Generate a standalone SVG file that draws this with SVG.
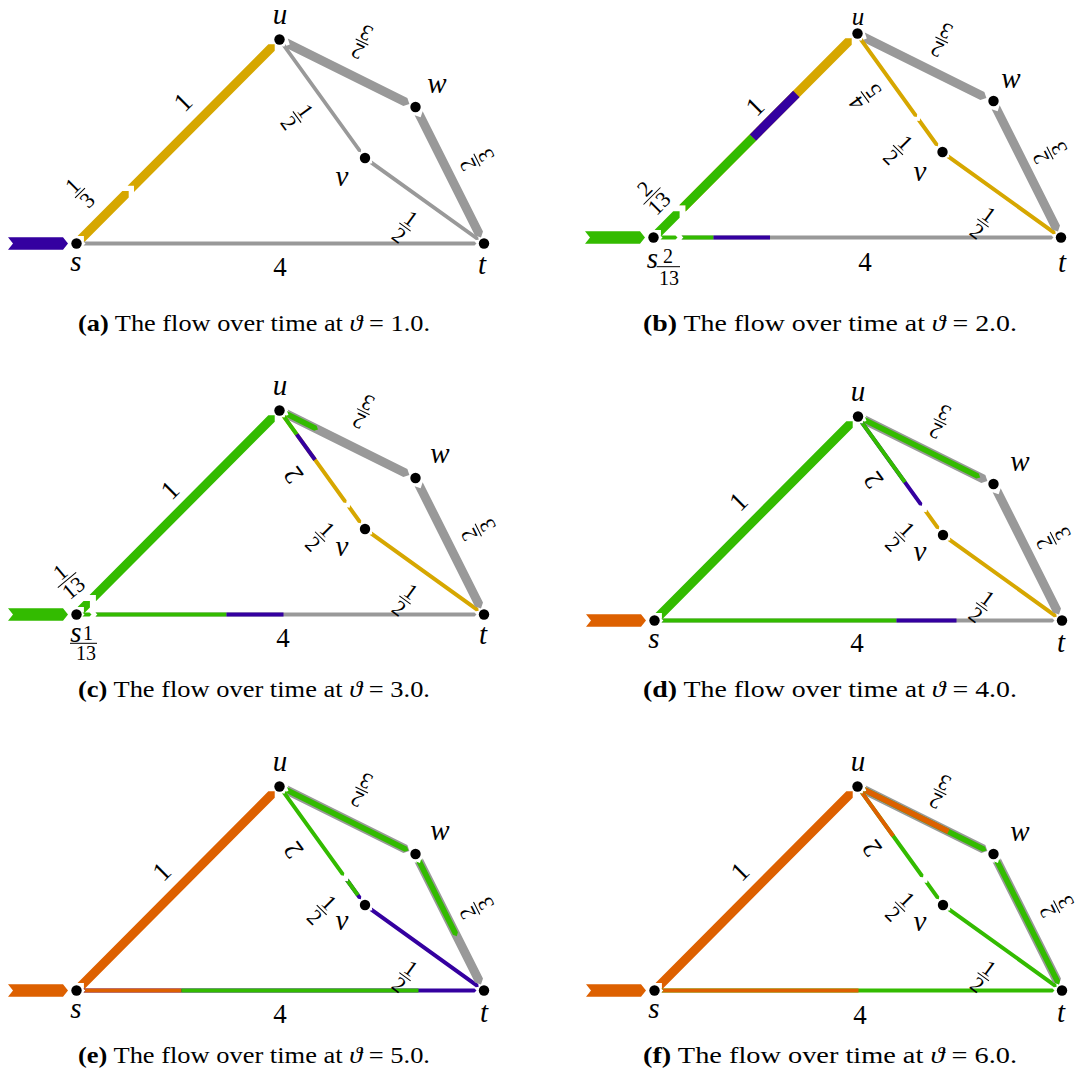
<svg xmlns="http://www.w3.org/2000/svg" width="1079" height="1082" viewBox="0 0 1079 1082" font-family="'Liberation Serif', 'Times New Roman', serif">
<style>
.g{fill:#999999}.y{fill:#d6a700}.p{fill:#3400a0}.gr{fill:#33bb00}.o{fill:#dd6000}
.n{fill:#000}
text{font-family:"Liberation Serif","Times New Roman",serif;fill:#000}
.nl{font-size:29px;font-style:italic;text-anchor:middle}
.el{font-size:27px;text-anchor:middle}
.fr{font-size:22px;text-anchor:middle}
.sf{font-size:20px;text-anchor:middle}
.bar{stroke:#000;stroke-width:1}
.cap{font-size:23px}
</style>
<rect width="1079" height="1082" fill="#fff"/>

<!-- Panel a -->
<g id="panel-a">
<g id="a-connectors">
<polygon class="p" points="8,237.2 13,243.5 8,249.8 63,249.8 68,243.5 63,237.2"/>
<g transform="translate(76.5,243.5) rotate(-45.14)">
<polygon class="y" points="6,-4.5 10.5,0 6,4.5 69.5,4.5 74,0 69.5,-4.5"/>
<polygon class="y" points="77,-4.5 81.5,0 77,4.5 276.5,4.5 281,0 276.5,-4.5"/>
</g>
<g transform="translate(76.5,243.5)"><polygon class="g" points="7,-2 9,0 7,2 398,2 400,0 398,-2"/></g>
<g transform="translate(279.5,39.5) rotate(26.39)"><polygon class="g" points="7,-4.5 11.5,0 7,4.5 140.5,4.5 145,0 140.5,-4.5"/></g>
<g transform="translate(279.5,39.5) rotate(54.19)"><polygon class="g" points="7,-1.8 9,0 7,1.8 137,1.8 139,0 137,-1.8"/></g>
<g transform="translate(365,158) rotate(35.7)"><polygon class="g" points="7,-1.9 9,0 7,1.9 138,1.9 140,0 138,-1.9"/></g>
<g transform="translate(415.5,107) rotate(63.35)"><polygon class="g" points="7,-4.5 11.5,0 7,4.5 141.5,4.5 146,0 141.5,-4.5"/></g>
<g transform="translate(183,102) rotate(-45)"><text class="el" y="9">1</text></g>
<text class="el" x="280" y="275.5">4</text>
<g transform="translate(80,193) rotate(-45)"><text class="fr" y="-3">1</text><line class="bar" x1="-7" x2="7"/><text class="fr" y="17.5">3</text></g>
<g transform="translate(362,42) rotate(206)"><text class="fr" y="-3">2</text><line class="bar" x1="-7" x2="7"/><text class="fr" y="17.5">3</text></g>
<g transform="translate(297,117) rotate(54)"><text class="fr" y="-3">1</text><line class="bar" x1="-7" x2="7"/><text class="fr" y="17.5">2</text></g>
<g transform="translate(477,160) rotate(243)"><text class="fr" y="-3">2</text><line class="bar" x1="-7" x2="7"/><text class="fr" y="17.5">3</text></g>
<g transform="translate(405,227) rotate(36)"><text class="fr" y="-3">1</text><line class="bar" x1="-7" x2="7"/><text class="fr" y="17.5">2</text></g>
</g>
<g id="a-s"><circle class="n" cx="76.5" cy="243.5" r="5.2"/><text class="nl" x="76" y="271">s</text></g>
<g id="a-u"><circle class="n" cx="279.5" cy="39.5" r="5.2"/><text class="nl" x="280" y="24">u</text></g>
<g id="a-w"><circle class="n" cx="415.5" cy="107" r="5.2"/><text class="nl" x="437" y="93">w</text></g>
<g id="a-v"><circle class="n" cx="365" cy="158" r="5.2"/><text class="nl" x="342" y="186">v</text></g>
<g id="a-t"><circle class="n" cx="484" cy="243.5" r="5.2"/><text class="nl" x="482" y="274">t</text></g>
</g>
<text class="cap" x="78" y="331" textLength="352" lengthAdjust="spacingAndGlyphs"><tspan font-weight="bold">(a)</tspan> The flow over time at <tspan font-style="italic">ϑ</tspan> = 1.0.</text>

<!-- Panel b -->
<g id="panel-b" transform="translate(577,-6)">
<g id="b-connectors">
<polygon class="gr" points="8,237.2 13,243.5 8,249.8 63,249.8 68,243.5 63,237.2"/>
<g transform="translate(76.5,243.5) rotate(-45.14)">
<polygon class="gr" points="6,-4.5 10.5,0 6,4.5 32.5,4.5 37,0 32.5,-4.5"/>
<polygon class="y" points="41,-4.5 45.5,0 41,4.5 276.5,4.5 281,0 276.5,-4.5"/>
<polygon class="gr" points="41,-4.5 45.5,0 41,4.5 141,4.5 141,-4.5"/>
<rect class="p" x="141" y="-4.5" width="61.5" height="9"/>
</g>
<g transform="translate(76.5,243.5)">
<polygon class="gr" points="7,-2 9,0 7,2 22,2 24,0 22,-2"/>
<polygon class="g" points="28,-2 30,0 28,2 398,2 400,0 398,-2"/>
<polygon class="gr" points="28,-2 30,0 28,2 60,2 60,-2"/>
<rect class="p" x="60" y="-2" width="56.5" height="4"/>
</g>
<g transform="translate(279.5,39.5) rotate(26.39)"><polygon class="g" points="7,-4.5 11.5,0 7,4.5 140.5,4.5 145,0 140.5,-4.5"/></g>
<g transform="translate(279.5,39.5) rotate(54.19)">
<polygon class="y" points="7,-2 9,0 7,2 101,2 103,0 101,-2"/>
<polygon class="y" points="106,-2 108,0 106,2 137,2 139,0 137,-2"/>
</g>
<g transform="translate(365,158) rotate(35.7)"><polygon class="y" points="7,-2 9,0 7,2 138,2 140,0 138,-2"/></g>
<g transform="translate(415.5,107) rotate(63.35)"><polygon class="g" points="7,-4.5 11.5,0 7,4.5 141.5,4.5 146,0 141.5,-4.5"/></g>
<g transform="translate(178,112.7) rotate(-45)"><text class="el" y="9">1</text></g>
<text class="el" x="288" y="277">4</text>
<g transform="translate(75,202) rotate(-45)"><text class="fr" y="-3">2</text><line class="bar" x1="-12" x2="12"/><text class="fr" y="17.5">13</text></g>
<g transform="translate(288,103) rotate(234)"><text class="fr" y="-3">4</text><line class="bar" x1="-7" x2="7"/><text class="fr" y="17.5">5</text></g>
<g transform="translate(321,156) rotate(45)"><text class="fr" y="-3">1</text><line class="bar" x1="-7" x2="7"/><text class="fr" y="17.5">2</text></g>
<g transform="translate(364.7,46) rotate(206)"><text class="fr" y="-3">2</text><line class="bar" x1="-7" x2="7"/><text class="fr" y="17.5">3</text></g>
<g transform="translate(473,159) rotate(243)"><text class="fr" y="-3">2</text><line class="bar" x1="-7" x2="7"/><text class="fr" y="17.5">3</text></g>
<g transform="translate(406,229) rotate(36)"><text class="fr" y="-3">1</text><line class="bar" x1="-7" x2="7"/><text class="fr" y="17.5">2</text></g>
</g>
<g id="b-s"><circle class="n" cx="76.5" cy="243.5" r="5.2"/><text class="nl" x="75.5" y="274.3">s</text><text class="sf" x="91" y="269">2</text><line class="bar" x1="79.7" y1="272.7" x2="103" y2="272.7"/><text class="sf" x="92" y="291">13</text></g>
<g id="b-u"><circle class="n" cx="280.5" cy="39.5" r="5.2"/><text class="nl" x="281" y="31" style="font-size:25px">u</text></g>
<g id="b-w"><circle class="n" cx="416.5" cy="107" r="5.2"/><text class="nl" x="434" y="94">w</text></g>
<g id="b-v"><circle class="n" cx="365.5" cy="158" r="5.2"/><text class="nl" x="343" y="187">v</text></g>
<g id="b-t"><circle class="n" cx="484" cy="243.5" r="5.2"/><text class="nl" x="485" y="278">t</text></g>
</g>
<text class="cap" x="643" y="331" textLength="374" lengthAdjust="spacingAndGlyphs"><tspan font-weight="bold">(b)</tspan> The flow over time at <tspan font-style="italic">ϑ</tspan> = 2.0.</text>

<!-- Panel c -->
<g id="panel-c" transform="translate(0,371)">
<g id="c-connectors">
<polygon class="gr" points="8,237.2 13,243.5 8,249.8 63,249.8 68,243.5 63,237.2"/>
<g transform="translate(76.5,243.5) rotate(-45.14)">
<polygon class="gr" points="6,-4.5 10.5,0 6,4.5 14.5,4.5 19,0 14.5,-4.5"/>
<polygon class="gr" points="23,-4.5 27.5,0 23,4.5 276.5,4.5 281,0 276.5,-4.5"/>
</g>
<g transform="translate(76.5,243.5)">
<polygon class="gr" points="6,-2 8,0 6,2 13,2 15,0 13,-2"/>
<polygon class="g" points="19,-2 21,0 19,2 398,2 400,0 398,-2"/>
<polygon class="gr" points="19,-2 21,0 19,2 150,2 150,-2"/>
<rect class="p" x="150" y="-2" width="57" height="4"/>
</g>
<g transform="translate(279.5,39.5) rotate(26.39)">
<polygon class="g" points="7,-4.5 11.5,0 7,4.5 140.5,4.5 145,0 140.5,-4.5"/>
<polygon class="gr" points="7,-2.8 10,0 7,2.8 40,2.8 43,0 40,-2.8"/>
</g>
<g transform="translate(279.5,39.5) rotate(54.19)">
<polygon class="y" points="7,-2 9,0 7,2 112,2 114,0 112,-2"/>
<polygon class="gr" points="7,-2 9,0 7,2 29.4,2 29.4,-2"/>
<rect class="p" x="29.4" y="-2" width="31.3" height="4"/>
<polygon class="y" points="118,-2 120,0 118,2 137,2 139,0 137,-2"/>
</g>
<g transform="translate(365,158) rotate(35.7)"><polygon class="y" points="7,-2 9,0 7,2 138,2 140,0 138,-2"/></g>
<g transform="translate(415.5,107) rotate(63.35)"><polygon class="g" points="7,-4.5 11.5,0 7,4.5 141.5,4.5 146,0 141.5,-4.5"/></g>
<g transform="translate(170,119) rotate(-45)"><text class="el" y="9">1</text></g>
<g transform="translate(293.3,104) rotate(234)"><text class="el" y="9">2</text></g>
<text class="el" x="283" y="276">4</text>
<g transform="translate(67,209) rotate(-40)"><text class="fr" y="-3">1</text><line class="bar" x1="-12" x2="12"/><text class="fr" y="17.5">13</text></g>
<g transform="translate(320,165.7) rotate(45)"><text class="fr" y="-3">1</text><line class="bar" x1="-7" x2="7"/><text class="fr" y="17.5">2</text></g>
<g transform="translate(363.3,40.7) rotate(206)"><text class="fr" y="-3">2</text><line class="bar" x1="-7" x2="7"/><text class="fr" y="17.5">3</text></g>
<g transform="translate(478.3,159) rotate(243)"><text class="fr" y="-3">2</text><line class="bar" x1="-7" x2="7"/><text class="fr" y="17.5">3</text></g>
<g transform="translate(405,229) rotate(36)"><text class="fr" y="-3">1</text><line class="bar" x1="-7" x2="7"/><text class="fr" y="17.5">2</text></g>
</g>
<g id="c-s"><circle class="n" cx="76.5" cy="243.5" r="5.2"/><text class="nl" x="76" y="270.5">s</text><text class="sf" x="88" y="269">1</text><line class="bar" x1="70" y1="272.3" x2="97" y2="272.3"/><text class="sf" x="86" y="289">13</text></g>
<g id="c-u"><circle class="n" cx="279.5" cy="39.5" r="5.2"/><text class="nl" x="280" y="24">u</text></g>
<g id="c-w"><circle class="n" cx="415.5" cy="107" r="5.2"/><text class="nl" x="440" y="92">w</text></g>
<g id="c-v"><circle class="n" cx="365" cy="158" r="5.2"/><text class="nl" x="342" y="185">v</text></g>
<g id="c-t"><circle class="n" cx="484" cy="243.5" r="5.2"/><text class="nl" x="483" y="273">t</text></g>
</g>
<text class="cap" x="78" y="697" textLength="352" lengthAdjust="spacingAndGlyphs"><tspan font-weight="bold">(c)</tspan> The flow over time at <tspan font-style="italic">ϑ</tspan> = 3.0.</text>

<!-- Panel d -->
<g id="panel-d" transform="translate(578,377)">
<g id="d-connectors">
<polygon class="o" points="8,237.2 13,243.5 8,249.8 63,249.8 68,243.5 63,237.2"/>
<g transform="translate(76.5,243.5) rotate(-45.14)"><polygon class="gr" points="6,-4.5 10.5,0 6,4.5 276.5,4.5 281,0 276.5,-4.5"/></g>
<g transform="translate(76.5,243.5)">
<polygon class="g" points="7,-2 9,0 7,2 398,2 400,0 398,-2"/>
<polygon class="gr" points="7,-2 9,0 7,2 242,2 242,-2"/>
<rect class="p" x="242" y="-2" width="60" height="4"/>
</g>
<g transform="translate(279.5,39.5) rotate(26.39)">
<polygon class="g" points="7,-4.5 11.5,0 7,4.5 140.5,4.5 145,0 140.5,-4.5"/>
<polygon class="gr" points="7,-2.8 10,0 7,2.8 134,2.8 137,0 134,-2.8"/>
</g>
<g transform="translate(279.5,39.5) rotate(54.19)">
<polygon class="p" points="7,-2 9,0 7,2 108,2 110,0 108,-2"/>
<polygon class="gr" points="7,-2 9,0 7,2 81,2 81,-2"/>
<polygon class="y" points="116,-2 118,0 116,2 137,2 139,0 137,-2"/>
</g>
<g transform="translate(365,158) rotate(35.7)"><polygon class="y" points="7,-2 9,0 7,2 138,2 140,0 138,-2"/></g>
<g transform="translate(415.5,107) rotate(63.35)"><polygon class="g" points="7,-4.5 11.5,0 7,4.5 141.5,4.5 146,0 141.5,-4.5"/></g>
<g transform="translate(160.3,124.7) rotate(-45)"><text class="el" y="9">1</text></g>
<g transform="translate(295.3,103) rotate(234)"><text class="el" y="9">2</text></g>
<text class="el" x="279" y="275">4</text>
<g transform="translate(322,159.7) rotate(45)"><text class="fr" y="-3">1</text><line class="bar" x1="-7" x2="7"/><text class="fr" y="17.5">2</text></g>
<g transform="translate(362,44.7) rotate(206)"><text class="fr" y="-3">2</text><line class="bar" x1="-7" x2="7"/><text class="fr" y="17.5">3</text></g>
<g transform="translate(475.3,161.3) rotate(243)"><text class="fr" y="-3">2</text><line class="bar" x1="-7" x2="7"/><text class="fr" y="17.5">3</text></g>
<g transform="translate(403.7,229.7) rotate(36)"><text class="fr" y="-3">1</text><line class="bar" x1="-7" x2="7"/><text class="fr" y="17.5">2</text></g>
</g>
<g id="d-s"><circle class="n" cx="76.5" cy="243.5" r="5.2"/><text class="nl" x="76" y="271">s</text></g>
<g id="d-u"><circle class="n" cx="280" cy="39.5" r="5.2"/><text class="nl" x="280" y="24">u</text></g>
<g id="d-w"><circle class="n" cx="415.5" cy="107" r="5.2"/><text class="nl" x="442" y="94">w</text></g>
<g id="d-v"><circle class="n" cx="365" cy="158" r="5.2"/><text class="nl" x="342" y="184">v</text></g>
<g id="d-t"><circle class="n" cx="484" cy="243.5" r="5.2"/><text class="nl" x="483" y="275">t</text></g>
</g>
<text class="cap" x="643" y="697" textLength="374" lengthAdjust="spacingAndGlyphs"><tspan font-weight="bold">(d)</tspan> The flow over time at <tspan font-style="italic">ϑ</tspan> = 4.0.</text>

<!-- Panel e -->
<g id="panel-e" transform="translate(0,747)">
<g id="e-connectors">
<polygon class="o" points="8,237.2 13,243.5 8,249.8 63,249.8 68,243.5 63,237.2"/>
<g transform="translate(76.5,243.5) rotate(-45.14)"><polygon class="o" points="6,-4.5 10.5,0 6,4.5 276.5,4.5 281,0 276.5,-4.5"/></g>
<g transform="translate(76.5,243.5)">
<polygon class="p" points="7,-2 9,0 7,2 398,2 400,0 398,-2"/>
<polygon class="o" points="7,-2 9,0 7,2 105,2 105,-2"/>
<rect class="gr" x="105" y="-2" width="237" height="4"/>
</g>
<g transform="translate(279.5,39.5) rotate(26.39)">
<polygon class="g" points="7,-4.5 11.5,0 7,4.5 140.5,4.5 145,0 140.5,-4.5"/>
<polygon class="gr" points="7,-2.8 10,0 7,2.8 141,2.8 144,0 141,-2.8"/>
</g>
<g transform="translate(279.5,39.5) rotate(54.19)">
<polygon class="gr" points="7,-2 9,0 7,2 108,2 110,0 108,-2"/>
<polygon class="p" points="115,-2 117,0 115,2 137,2 139,0 137,-2"/>
<polygon class="gr" points="115,-2 117,0 115,2 134,2 134,-2"/>
</g>
<g transform="translate(365,158) rotate(35.7)"><polygon class="p" points="7,-2 9,0 7,2 138,2 140,0 138,-2"/></g>
<g transform="translate(415.5,107) rotate(63.35)">
<polygon class="g" points="7,-4.5 11.5,0 7,4.5 141.5,4.5 146,0 141.5,-4.5"/>
<polygon class="gr" points="7,-2.8 10,0 7,2.8 89,2.8 92,0 89,-2.8"/>
</g>
<g transform="translate(161.7,124.7) rotate(-45)"><text class="el" y="9">1</text></g>
<g transform="translate(293.3,103) rotate(234)"><text class="el" y="9">2</text></g>
<text class="el" x="280" y="276">4</text>
<g transform="translate(321.7,163) rotate(45)"><text class="fr" y="-3">1</text><line class="bar" x1="-7" x2="7"/><text class="fr" y="17.5">2</text></g>
<g transform="translate(361.7,43) rotate(206)"><text class="fr" y="-3">2</text><line class="bar" x1="-7" x2="7"/><text class="fr" y="17.5">3</text></g>
<g transform="translate(476.7,161.3) rotate(243)"><text class="fr" y="-3">2</text><line class="bar" x1="-7" x2="7"/><text class="fr" y="17.5">3</text></g>
<g transform="translate(405,229.7) rotate(36)"><text class="fr" y="-3">1</text><line class="bar" x1="-7" x2="7"/><text class="fr" y="17.5">2</text></g>
</g>
<g id="e-s"><circle class="n" cx="76.5" cy="243.5" r="5.2"/><text class="nl" x="76" y="271">s</text></g>
<g id="e-u"><circle class="n" cx="279.5" cy="39.5" r="5.2"/><text class="nl" x="280" y="24">u</text></g>
<g id="e-w"><circle class="n" cx="415.5" cy="107" r="5.2"/><text class="nl" x="440" y="92.5">w</text></g>
<g id="e-v"><circle class="n" cx="365" cy="158" r="5.2"/><text class="nl" x="342" y="182.5">v</text></g>
<g id="e-t"><circle class="n" cx="484" cy="243.5" r="5.2"/><text class="nl" x="484" y="275">t</text></g>
</g>
<text class="cap" x="78" y="1063" textLength="352" lengthAdjust="spacingAndGlyphs"><tspan font-weight="bold">(e)</tspan> The flow over time at <tspan font-style="italic">ϑ</tspan> = 5.0.</text>

<!-- Panel f -->
<g id="panel-f" transform="translate(578,747)">
<g id="f-connectors">
<polygon class="o" points="8,237.2 13,243.5 8,249.8 63,249.8 68,243.5 63,237.2"/>
<g transform="translate(76.5,243.5) rotate(-45.14)"><polygon class="o" points="6,-4.5 10.5,0 6,4.5 276.5,4.5 281,0 276.5,-4.5"/></g>
<g transform="translate(76.5,243.5)">
<polygon class="gr" points="7,-2 9,0 7,2 398,2 400,0 398,-2"/>
<polygon class="o" points="7,-2 9,0 7,2 204,2 204,-2"/>
</g>
<g transform="translate(279.5,39.5) rotate(26.39)">
<polygon class="g" points="7,-4.5 11.5,0 7,4.5 140.5,4.5 145,0 140.5,-4.5"/>
<polygon class="gr" points="7,-2.8 10,0 7,2.8 141,2.8 144,0 141,-2.8"/>
<polygon class="o" points="7,-2.8 10,0 7,2.8 101.5,2.8 101.5,-2.8"/>
</g>
<g transform="translate(279.5,39.5) rotate(54.19)">
<polygon class="gr" points="7,-2 9,0 7,2 110,2 112,0 110,-2"/>
<polygon class="o" points="7,-2 9,0 7,2 61,2 61,-2"/>
<polygon class="gr" points="117,-2 119,0 117,2 137,2 139,0 137,-2"/>
</g>
<g transform="translate(365,158) rotate(35.7)"><polygon class="gr" points="7,-2 9,0 7,2 138,2 140,0 138,-2"/></g>
<g transform="translate(415.5,107) rotate(63.35)">
<polygon class="g" points="7,-4.5 11.5,0 7,4.5 141.5,4.5 146,0 141.5,-4.5"/>
<polygon class="gr" points="7,-2.8 10,0 7,2.8 143,2.8 146,0 143,-2.8"/>
</g>
<g transform="translate(162,124.7) rotate(-45)"><text class="el" y="9">1</text></g>
<g transform="translate(293.7,101.3) rotate(234)"><text class="el" y="9">2</text></g>
<text class="el" x="282" y="277">4</text>
<g transform="translate(322,159.7) rotate(45)"><text class="fr" y="-3">1</text><line class="bar" x1="-7" x2="7"/><text class="fr" y="17.5">2</text></g>
<g transform="translate(362,44.7) rotate(206)"><text class="fr" y="-3">2</text><line class="bar" x1="-7" x2="7"/><text class="fr" y="17.5">3</text></g>
<g transform="translate(478.7,159.7) rotate(243)"><text class="fr" y="-3">2</text><line class="bar" x1="-7" x2="7"/><text class="fr" y="17.5">3</text></g>
<g transform="translate(405.3,229.7) rotate(36)"><text class="fr" y="-3">1</text><line class="bar" x1="-7" x2="7"/><text class="fr" y="17.5">2</text></g>
</g>
<g id="f-s"><circle class="n" cx="76.5" cy="243.5" r="5.2"/><text class="nl" x="76" y="271">s</text></g>
<g id="f-u"><circle class="n" cx="279.5" cy="39.5" r="5.2"/><text class="nl" x="280" y="24">u</text></g>
<g id="f-w"><circle class="n" cx="415.5" cy="107" r="5.2"/><text class="nl" x="442" y="94">w</text></g>
<g id="f-v"><circle class="n" cx="365" cy="158" r="5.2"/><text class="nl" x="342" y="184">v</text></g>
<g id="f-t"><circle class="n" cx="484" cy="243.5" r="5.2"/><text class="nl" x="483" y="275">t</text></g>
</g>
<text class="cap" x="643" y="1063" textLength="374" lengthAdjust="spacingAndGlyphs"><tspan font-weight="bold">(f)</tspan> The flow over time at <tspan font-style="italic">ϑ</tspan> = 6.0.</text>
</svg>
